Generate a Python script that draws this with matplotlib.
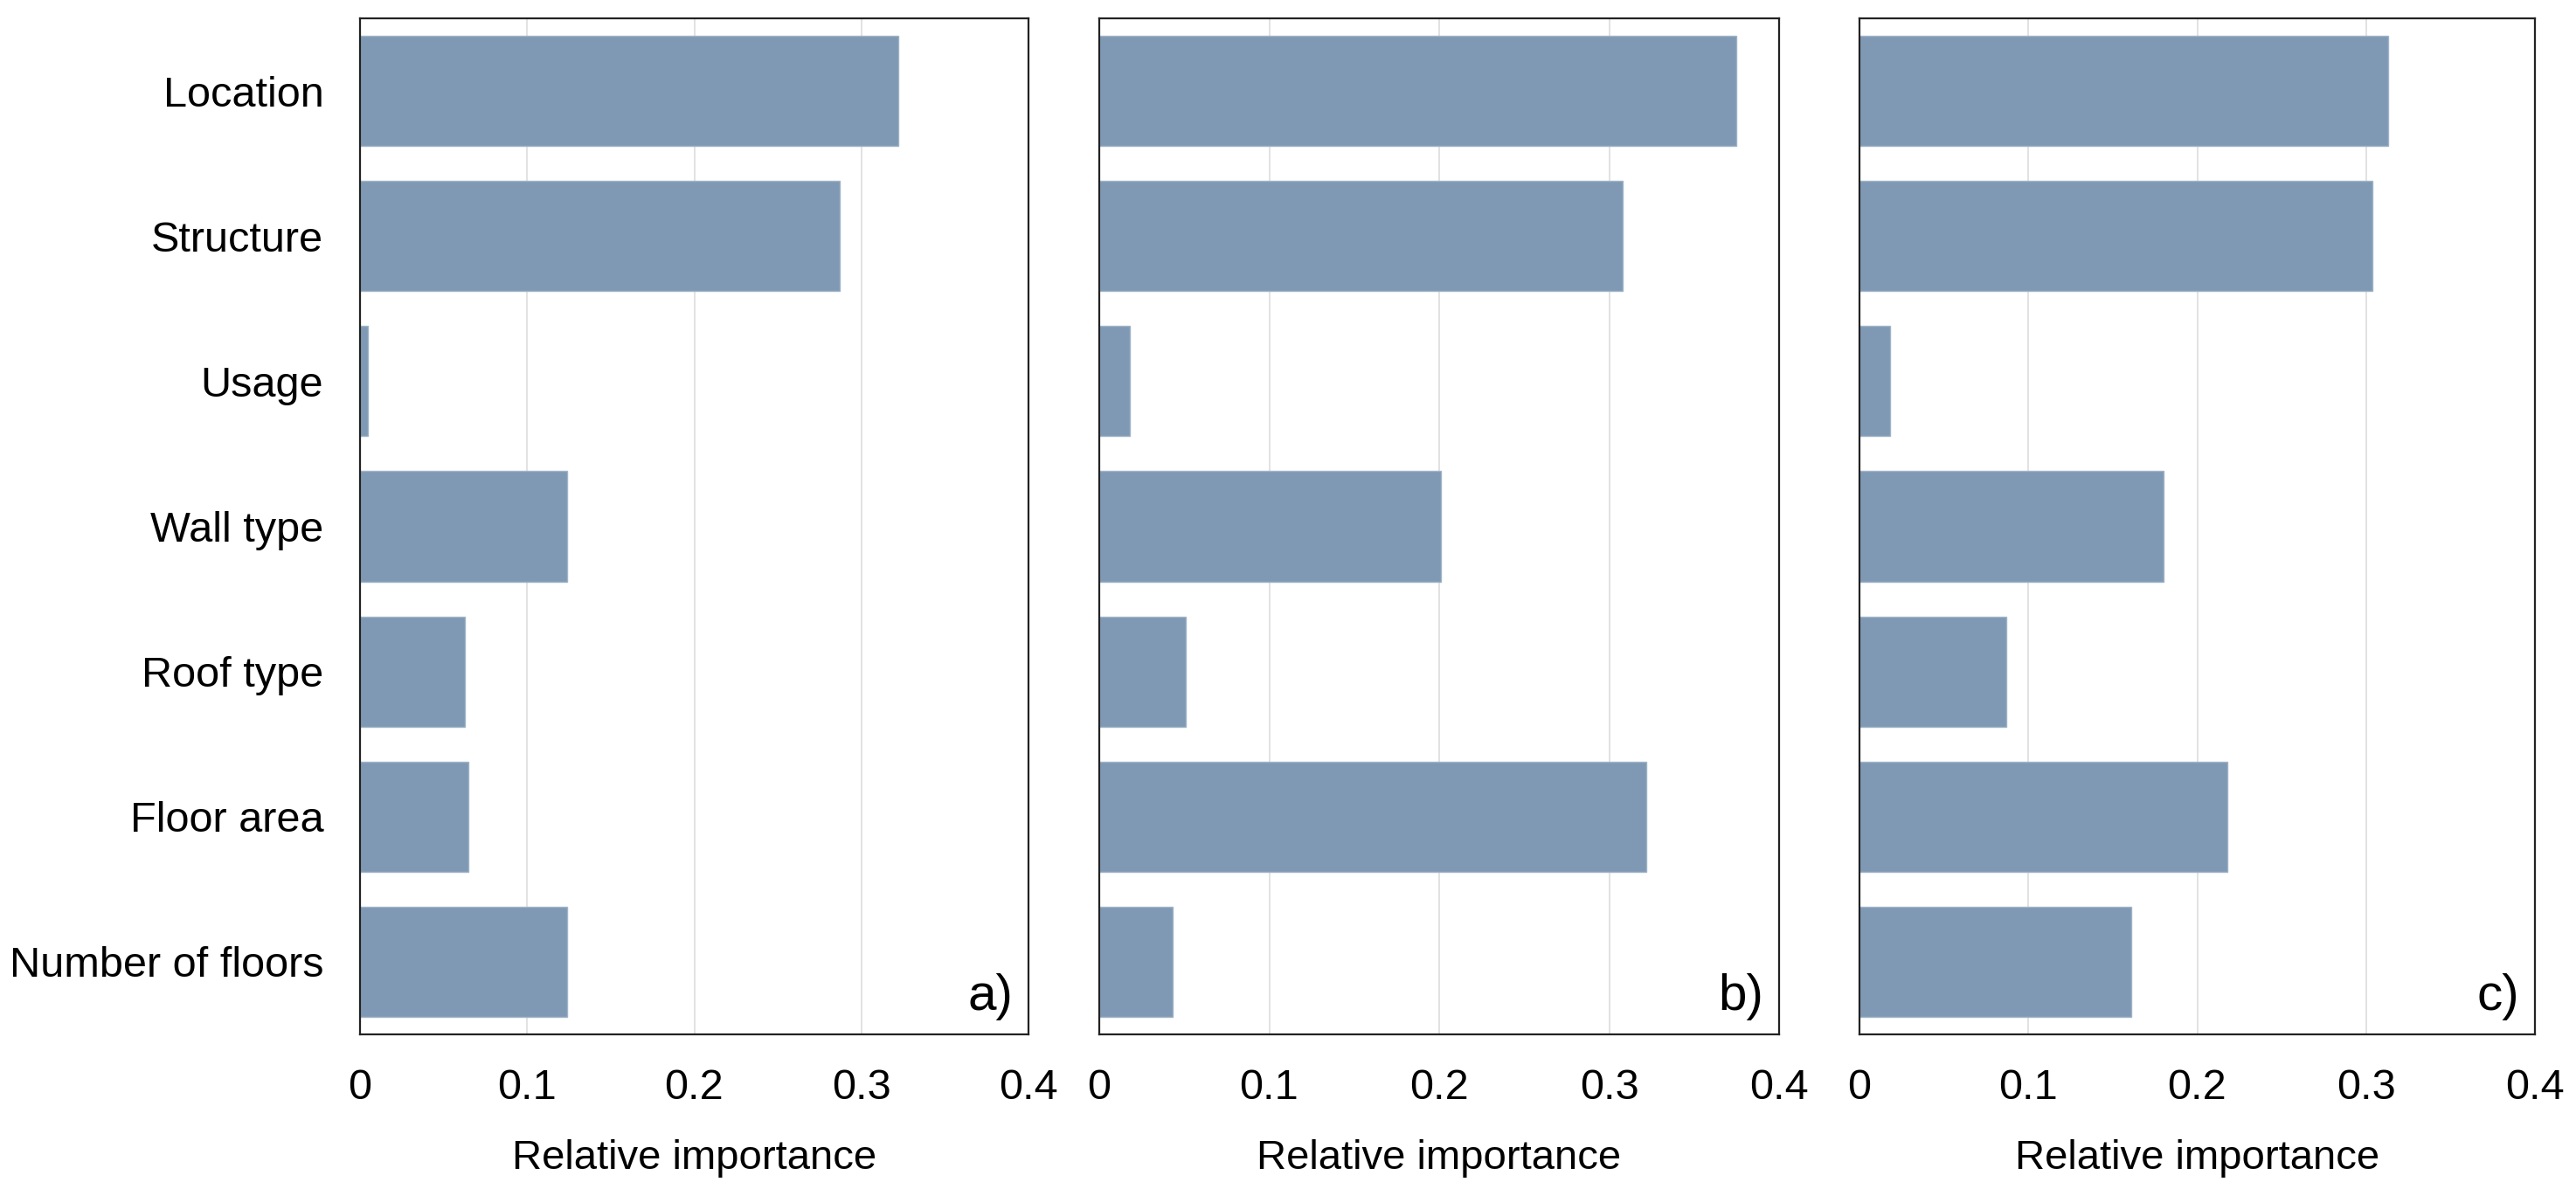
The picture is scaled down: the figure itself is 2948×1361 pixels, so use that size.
import matplotlib
matplotlib.use("Agg")
import matplotlib.pyplot as plt
from matplotlib.ticker import FuncFormatter

categories = ["Location", "Structure", "Usage", "Wall type", "Roof type",
              "Floor area", "Number of floors"]
values_a = [0.322, 0.287, 0.0045, 0.124, 0.063, 0.065, 0.124]
values_b = [0.375, 0.308, 0.018, 0.201, 0.051, 0.322, 0.043]
values_c = [0.313, 0.304, 0.018, 0.180, 0.087, 0.218, 0.161]
panel_labels = ["a)", "b)", "c)"]
xticks = [0, 0.1, 0.2, 0.3, 0.4]
xlabel = "Relative importance"

plt.rcParams['font.family'] = ['Liberation Sans', 'DejaVu Sans']

W, H = 2948, 1361
dpi = 200
fig = plt.figure(figsize=(W / dpi, H / dpi), dpi=dpi)

panels = [(412, 1177), (1258, 2036), (2128, 2901)]
top, bottom = 21, 1184
color = "#7F99B4"

for i, (vals, (x0, x1)) in enumerate(zip([values_a, values_b, values_c], panels)):
    ax = fig.add_axes([x0 / W, 1 - bottom / H, (x1 - x0) / W, (bottom - top) / H])
    y = list(range(len(categories)))
    ax.barh(y, vals, height=0.76, color=color, edgecolor="#9FB3C8", linewidth=0.5, zorder=2)
    ax.set_ylim(len(categories) - 0.5, -0.5)
    ax.set_xlim(0, 0.4)
    ax.set_xticks(xticks)
    ax.xaxis.set_major_formatter(FuncFormatter(lambda v, p: f"{v:g}"))
    ax.grid(axis='x', color="#DDDDDD", linewidth=0.6, zorder=0)
    ax.set_axisbelow(True)
    ax.tick_params(axis='x', length=0, pad=14, labelsize=17.5)
    ax.tick_params(axis='y', length=0, pad=15, labelsize=17.5)
    ax.set_yticks(y)
    if i == 0:
        ax.set_yticklabels(categories)
    else:
        ax.set_yticklabels([])
    for s in ax.spines.values():
        s.set_color("#222222")
        s.set_linewidth(0.8)
    ax.set_xlabel(xlabel, fontsize=17, labelpad=13)
    ax.text(0.977, 0.014, panel_labels[i], transform=ax.transAxes, ha='right',
            va='bottom', fontsize=21)

fig.savefig("out.png", dpi=dpi)
